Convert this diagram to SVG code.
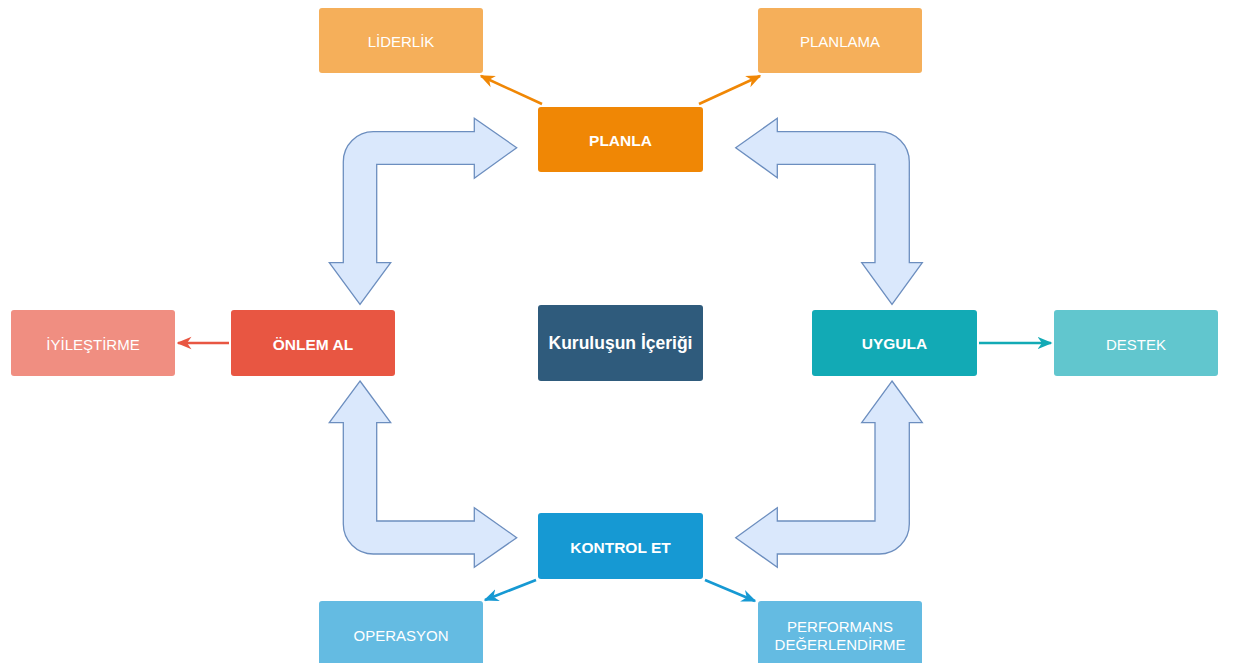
<svg xmlns="http://www.w3.org/2000/svg" width="1241" height="663" viewBox="0 0 1241 663">
<defs>
<style>
text{font-family:"Liberation Sans",Arial,sans-serif;fill:#fff;text-anchor:middle;dominant-baseline:central}
.main{font-size:15.5px;font-weight:bold}
.sub{font-size:15px}
.ctr{font-size:17.5px;font-weight:bold}
.blk{fill:#dae8fc;stroke:#6c8ebf;stroke-width:1.3}
.ln{fill:none;stroke-width:2.6}
</style>
<marker id="mo" viewBox="0 0 10 10" refX="9" refY="5" markerWidth="15" markerHeight="15" orient="auto" markerUnits="userSpaceOnUse"><path d="M0,0.8 L10,5 L0,9.2 L3,5 z" fill="#f08705"/></marker>
<marker id="mr" viewBox="0 0 10 10" refX="9" refY="5" markerWidth="15" markerHeight="15" orient="auto" markerUnits="userSpaceOnUse"><path d="M0,0.8 L10,5 L0,9.2 L3,5 z" fill="#e85642"/></marker>
<marker id="mt" viewBox="0 0 10 10" refX="9" refY="5" markerWidth="15" markerHeight="15" orient="auto" markerUnits="userSpaceOnUse"><path d="M0,0.8 L10,5 L0,9.2 L3,5 z" fill="#12aab5"/></marker>
<marker id="mb" viewBox="0 0 10 10" refX="9" refY="5" markerWidth="15" markerHeight="15" orient="auto" markerUnits="userSpaceOnUse"><path d="M0,0.8 L10,5 L0,9.2 L3,5 z" fill="#1699d3"/></marker>
</defs>
<rect width="1241" height="663" fill="#fff"/>
<g id="connectors">
<path class="blk" d="M516.7,147.7 L474.3,118.3 L474.3,131.7 L373.3,131.7 A30,30 0 0 0 343.3,161.7 L343.3,262.7 L329.3,262.7 L360,304.3 L390.7,262.7 L376.7,262.7 L376.7,164.3 L474.3,164.3 L474.3,178.3 Z"/>
<path class="blk" d="M735.7,147.7 L777.3,118.3 L777.3,131.7 L879.3,131.7 A30,30 0 0 1 909.3,161.7 L909.3,262.7 L922.3,262.7 L892,304.3 L861.7,262.7 L875,262.7 L875,164.3 L777.3,164.3 L777.3,177.7 Z"/>
<path class="blk" d="M360,381 L390.7,422.7 L376.7,422.7 L376.7,521 L474.3,521 L474.3,507.7 L516.7,537.7 L474.3,567.3 L474.3,554 L373.3,554 A30,30 0 0 1 343.3,524 L343.3,422.7 L329.3,422.7 Z"/>
<path class="blk" d="M892,381 L922.3,422.7 L909.3,422.7 L909.3,524 A30,30 0 0 1 879.3,554 L777.3,554 L777.3,567.3 L735.7,537.7 L777.3,507.7 L777.3,521 L875,521 L875,422.7 L861.7,422.7 Z"/>
<path class="ln" stroke="#f08705" marker-end="url(#mo)" d="M542,104 L481,76"/>
<path class="ln" stroke="#f08705" marker-end="url(#mo)" d="M699,104 L760,76"/>
<path class="ln" stroke="#e85642" marker-end="url(#mr)" d="M229,343 L178,343"/>
<path class="ln" stroke="#12aab5" marker-end="url(#mt)" d="M979,343 L1051,343"/>
<path class="ln" stroke="#1699d3" marker-end="url(#mb)" d="M536,580 L485,600"/>
<path class="ln" stroke="#1699d3" marker-end="url(#mb)" d="M705,580 L755,601"/>
</g>
<g id="liderlik"><rect x="319" y="8" width="164" height="65" rx="3" fill="#f5af5a"/><text class="sub" x="401" y="41">LİDERLİK</text></g>
<g id="planlama"><rect x="758" y="8" width="164" height="65" rx="3" fill="#f5af5a"/><text class="sub" x="840" y="41">PLANLAMA</text></g>
<g id="planla"><rect x="538" y="107" width="165" height="65" rx="3" fill="#f08705"/><text class="main" x="620.5" y="140">PLANLA</text></g>
<g id="iyilestirme"><rect x="11" y="310" width="164" height="66" rx="3" fill="#f08e81"/><text class="sub" x="93" y="344">İYİLEŞTİRME</text></g>
<g id="onlemal"><rect x="231" y="310" width="164" height="66" rx="3" fill="#e85642"/><text class="main" x="313" y="344">ÖNLEM AL</text></g>
<g id="kurulus"><rect x="538" y="305" width="165" height="76" rx="3" fill="#2f5b7c"/><text class="ctr" x="620.5" y="343">Kuruluşun İçeriği</text></g>
<g id="uygula"><rect x="812" y="310" width="165" height="66" rx="3" fill="#12aab5"/><text class="main" x="894.5" y="343">UYGULA</text></g>
<g id="destek"><rect x="1054" y="310" width="164" height="66" rx="3" fill="#61c6ce"/><text class="sub" x="1136" y="344">DESTEK</text></g>
<g id="kontrolet"><rect x="538" y="513" width="165" height="66" rx="3" fill="#1699d3"/><text class="main" x="620.5" y="547">KONTROL ET</text></g>
<g id="operasyon"><rect x="319" y="601" width="164" height="70" rx="3" fill="#64bbe2"/><text class="sub" x="401" y="635">OPERASYON</text></g>
<g id="performans"><rect x="758" y="601" width="164" height="70" rx="3" fill="#64bbe2"/><text class="sub" x="840" y="626">PERFORMANS</text><text class="sub" x="840" y="644">DEĞERLENDİRME</text></g>
</svg>
